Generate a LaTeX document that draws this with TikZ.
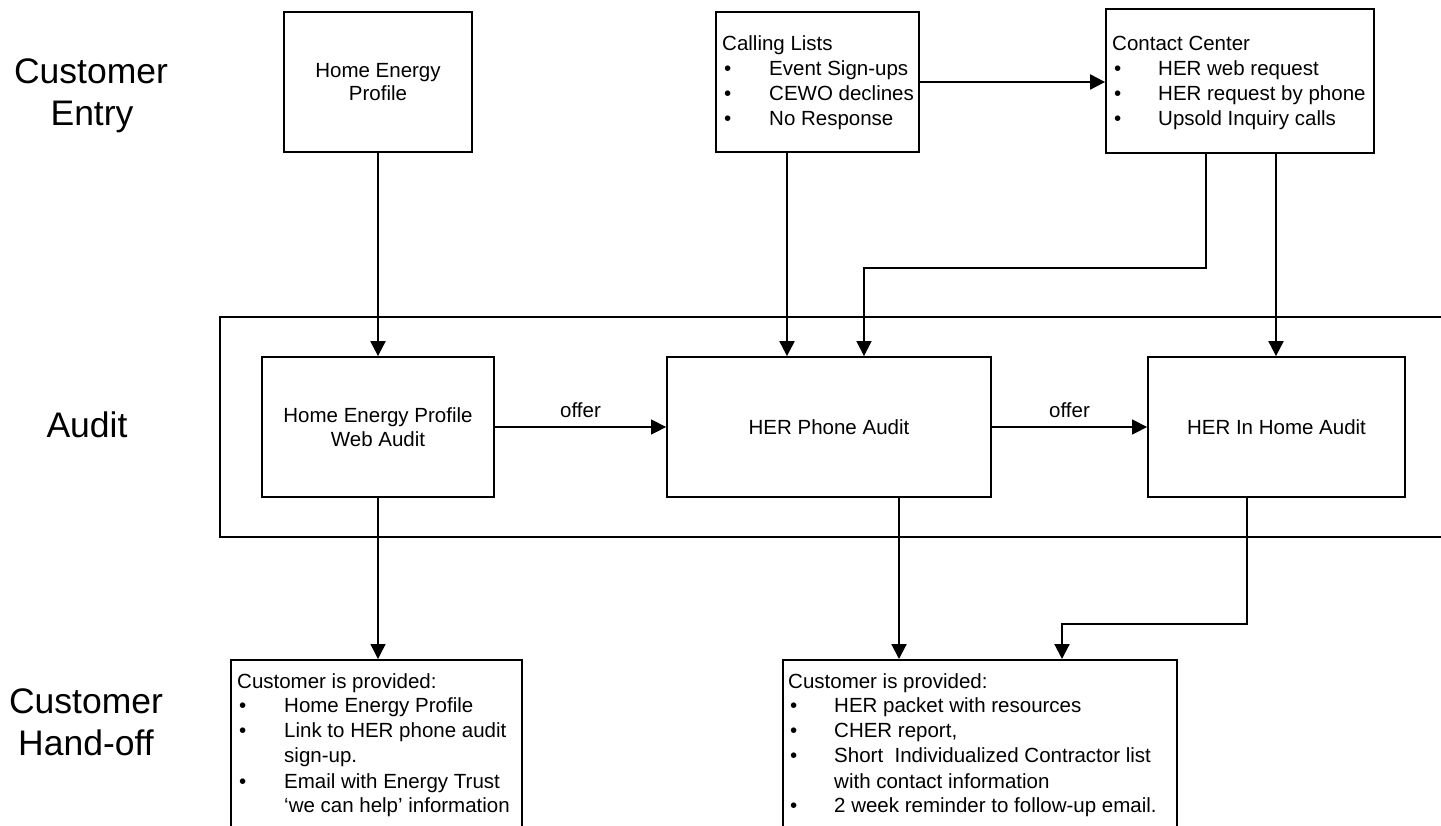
\documentclass[tikz,border=0pt]{standalone}
\usepackage{fontspec}
\setmainfont{Liberation Sans}
\usetikzlibrary{arrows.meta}
\begin{document}
\begin{tikzpicture}[x=1pt,y=-1pt,
  box/.style={draw, line width=1.8pt, inner sep=0pt, align=center, font=\fontsize{20.5}{23.5}\selectfont},
  txt/.style={inner sep=0pt, anchor=base west, font=\fontsize{20.5}{24}\selectfont},
  lbl/.style={inner sep=0pt, anchor=base, font=\fontsize{35.5}{42}\selectfont},
  conn/.style={line width=2.1pt, -{Triangle[length=15pt,width=15pt]}},
  thinconn/.style={line width=1.4pt, -{Triangle[length=15pt,width=15pt]}},
  offerlbl/.style={midway, anchor=base, yshift=10pt, inner sep=0pt, font=\fontsize{20.5}{24}\selectfont},
]
\useasboundingbox (0,0) rectangle (1441,825);

% row labels
\node[lbl] (entryA) at (91,83) {Customer};
\node[lbl] (entryB) at (92,125) {Entry};
\node[lbl] (auditlbl) at (87,437) {Audit};
\node[lbl] (handA) at (86,713) {Customer};
\node[lbl] (handB) at (86,755) {Hand-off};

% audit frame (runs off the right edge)
\draw[line width=2pt] (1442,317) -- (220,317) -- (220,537) -- (1442,537);

% boxes
\node[box, minimum width=188pt, minimum height=140pt] (hep) at (378,82) {Home Energy\\Profile};
\node[box, minimum width=203pt, minimum height=140pt] (calling) at (817.5,82) {};
\node[box, minimum width=268pt, minimum height=144pt] (contact) at (1240,81) {};
\node[box, minimum width=232pt, minimum height=140pt] (web) at (378,427) {Home Energy Profile\\Web Audit};
\node[box, minimum width=324pt, minimum height=140pt] (phone) at (829,427) {HER Phone Audit};
\node[box, minimum width=257pt, minimum height=140pt] (inhome) at (1276.5,427) {HER In Home Audit};
\node[box, minimum width=291pt, minimum height=190pt, anchor=north] (hand1) at (376.5,659) {};
\node[box, minimum width=394pt, minimum height=190pt, anchor=north] (hand2) at (980,659) {};

% Calling Lists text
\node[txt] (clT) at (722,50) {Calling Lists};
\node[txt] (clB1) at (724,75) {•};
\node[txt] (clB2) at (724,100) {•};
\node[txt] (clB3) at (724,125) {•};
\node[txt] (clI1) at (769,75) {Event Sign-ups};
\node[txt] (clI2) at (769,100) {CEWO declines};
\node[txt] (clI3) at (769,125) {No Response};

% Contact Center text
\node[txt] (ccT) at (1112,50) {Contact Center};
\node[txt] (ccB1) at (1114,75) {•};
\node[txt] (ccB2) at (1114,100) {•};
\node[txt] (ccB3) at (1114,125) {•};
\node[txt] (ccI1) at (1158,75) {HER web request};
\node[txt] (ccI2) at (1158,100) {HER request by phone};
\node[txt] (ccI3) at (1158,125) {Upsold Inquiry calls};

% Hand-off 1 text
\node[txt] (h1T) at (237,688) {Customer is provided:};
\node[txt] (h1B1) at (239,712) {•};
\node[txt] (h1B2) at (239,737) {•};
\node[txt] (h1B3) at (239,788) {•};
\node[txt] (h1I1) at (284,712) {Home Energy Profile};
\node[txt] (h1I2) at (284,737) {Link to HER phone audit};
\node[txt] (h1I2b) at (284,762) {sign-up.};
\node[txt] (h1I3) at (284,788) {Email with Energy Trust};
\node[txt] (h1I3b) at (284,812) {‘we can help’ information};

% Hand-off 2 text
\node[txt] (h2T) at (788,688) {Customer is provided:};
\node[txt] (h2B1) at (790,712) {•};
\node[txt] (h2B2) at (790,737) {•};
\node[txt] (h2B3) at (790,762) {•};
\node[txt] (h2B4) at (790,812) {•};
\node[txt] (h2I1) at (834,712) {HER packet with resources};
\node[txt] (h2I2) at (834,737) {CHER report,};
\node[txt] (h2I3) at (834,762) {Short\ \ Individualized Contractor list};
\node[txt] (h2I3b) at (834,788) {with contact information};
\node[txt] (h2I4) at (834,812) {2 week reminder to follow-up email.};

% connectors
\draw[conn] (calling.east) -- (calling.east -| contact.west);
\draw[conn] (hep.south) -- (hep.south |- web.north);
\draw[conn] ([xshift=-30.5pt]calling.south) -- ([xshift=-42pt]phone.north);
\draw[thinconn] ([xshift=-34pt]contact.south) -- ++(0,114) -| ([xshift=35pt]phone.north);
\draw[conn] ([xshift=36pt]contact.south) -- ([xshift=-0.5pt]inhome.north);
\draw[thinconn] (web.east) -- (phone.west) node[offerlbl] (offer1) {offer};
\draw[thinconn] (phone.east) -- (inhome.west) node[offerlbl] (offer2) {offer};
\draw[thinconn] (web.south) -- (web.south |- hand1.north);
\draw[conn] ([xshift=70pt]phone.south) -- ([xshift=-81pt]hand2.north);
\draw[conn] ([xshift=-29.5pt]inhome.south) -- ++(0,126) -| ([xshift=82pt]hand2.north);
\end{tikzpicture}
\end{document}
